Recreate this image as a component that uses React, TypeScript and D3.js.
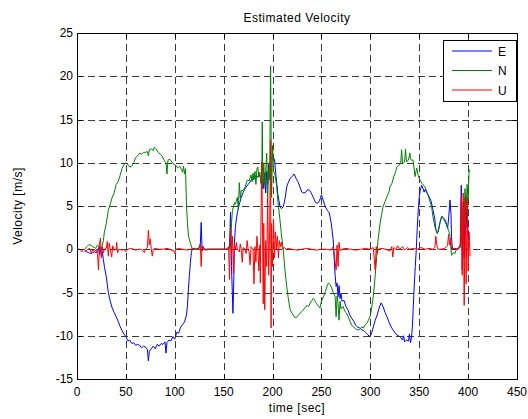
import React from "react";
import * as d3 from "d3";

const xTicks = [0, 50, 100, 150, 200, 250, 300, 350, 400, 450];
const yTicks = [-15, -10, -5, 0, 5, 10, 15, 20, 25];
const seriesNames = ["E", "N", "U"];
const seriesColors = ["#0000ff", "#008000", "#ff0000"];

// E (blue) velocity: [time, value]
const eData: [number, number][] = [
  [8, -0.2], [10, -0.3], [12, -0.4], [14, -0.5], [16, -0.4], [18, -0.3], [20, -0.4], [21, -0.1],
  [22, 0.2], [23, -0.6], [24, 0.2], [25, -0.9], [26, -0.3], [27, -1.2], [28, -2.0], [30, -3.2],
  [32, -5.0], [34, -6.0], [36, -6.8], [38, -7.3], [40, -7.8], [42, -8.3], [44, -8.9], [46, -9.4],
  [48, -9.8], [50, -10.1], [52, -10.6], [54, -10.5], [56, -10.9], [58, -10.8], [60, -11.1], [62, -11.0],
  [64, -11.1], [66, -11.4], [68, -11.2], [70, -11.3], [72, -11.6], [73, -12.9], [74, -11.8], [76, -11.5],
  [78, -11.2], [80, -11.5], [82, -11.0], [84, -11.2], [86, -10.9], [88, -11.0], [90, -10.7], [91, -12.0],
  [92, -10.8], [94, -10.5], [96, -10.6], [98, -10.1], [100, -10.4], [102, -9.6], [104, -9.7], [106, -9.0],
  [108, -8.7], [110, -8.4], [112, -7.6], [113, -6.5], [114, -4.5], [115, -3.0], [116, -1.5], [117, -0.3],
  [118, 0], [120, 0.1], [122, 0], [124, 0.1], [126, 0.2], [127, 3.1], [128, -0.2], [129, 0.3],
  [130, 0], [140, 0], [150, 0], [155, 0], [156, 0.2], [157, 4.3], [158, -2.0], [159.5, -7.4],
  [160.5, -3.0], [161, 0.8], [162, 2.5], [163, 3.5], [164, 4.2], [166, 5.2], [168, 6.0], [170, 6.6],
  [172, 7.0], [174, 7.4], [176, 7.6], [178, 8.0], [180, 8.1], [182, 8.4], [184, 8.3], [186, 8.6],
  [188, 8.4], [190, 8.5], [191, 7.0], [192, 8.8], [193, 6.5], [194, 9.0], [195, 7.5], [196, 9.8],
  [197, 8.0], [198, 10.5], [200, 10.7], [202, 10.4], [203.5, 8.5], [205.5, 6.3], [207.5, 5.0], [209, 4.7],
  [211, 4.9], [213, 6.0], [214.5, 7.2], [216, 7.7], [218, 8.2], [220, 8.4], [222, 8.7], [224, 8.2],
  [226, 7.8], [228, 7.2], [230, 6.6], [232, 6.5], [234, 6.6], [236, 6.9], [238, 6.8], [240, 6.4],
  [242, 5.9], [244, 5.4], [246, 5.3], [248, 5.6], [250, 6.3], [252, 5.6], [254, 4.9], [256, 4.5],
  [258, 4.2], [260, 3.0], [262, 1.1], [263, -1.0], [264, -3.0], [265, -4.3], [266, -3.9], [267, -5.5],
  [268, -4.2], [269, -5.7], [270, -5.1], [271, -6.0], [273, -5.9], [275, -6.6], [277, -7.0], [279, -7.6],
  [281, -8.0], [283, -8.3], [285, -8.8], [287, -9.0], [289, -9.1], [291, -9.3], [293, -9.4], [295, -9.6],
  [297, -9.8], [299, -10.1], [301, -9.8], [303, -9.0], [305, -8.2], [307, -7.6], [309, -6.8], [311, -6.2],
  [313, -6.6], [315, -7.3], [317, -7.8], [319, -8.4], [321, -8.9], [323, -9.3], [325, -9.6], [327, -9.9],
  [329, -10.0], [331, -10.2], [333, -10.5], [334, -10.0], [335, -10.7], [337, -10.5], [339, -10.6], [340, -9.8],
  [341, -10.8], [342, -10.3], [343, -9.0], [344, -6.5], [345, -4.0], [346, -2.0], [347, 0], [348, 2.5],
  [349, 4.5], [350, 6.0], [351, 6.8], [352.5, 7.4], [354, 7.0], [355, 6.6], [356, 6.9], [358, 6.5],
  [360, 6.1], [362, 5.6], [364, 4.6], [366, 3.4], [367, 2.3], [368, 1.9], [369.5, 2.0], [371, 3.0],
  [373, 3.8], [375, 3.6], [377, 3.3], [379, 2.4], [380, 3.5], [381.5, 5.7], [382.5, 4.0], [383, 1.5],
  [384, 0], [386, 0.1], [388, 0], [390, 0.1], [392, 0.5], [393, 7.4], [394, -2.4], [395, 5.5],
  [396, -1.0], [397, 6.0], [398, 2.5], [399, 5.5], [400, 1.6], [401, 1.0],
];

// N (green) velocity
const nData: [number, number][] = [
  [8, 0], [10, 0.3], [12, 0.5], [14, 0.5], [16, 0.3], [18, 0.2], [19, 0.1], [21, 0.5],
  [23, 0.2], [25, 0.1], [26, 0.5], [27, 1.0], [28, 2.0], [30, 3.0], [32, 4.5], [34, 5.2],
  [36, 6.0], [38, 6.5], [40, 7.5], [42, 7.8], [44, 8.5], [46, 9.3], [48, 9.8], [50, 10.0],
  [52, 9.8], [54, 9.5], [56, 9.6], [58, 10.0], [60, 10.6], [62, 10.8], [64, 11.1], [66, 11.0],
  [68, 11.2], [70, 11.2], [72, 11.3], [73, 10.8], [74, 11.5], [76, 11.6], [78, 11.4], [79, 11.8],
  [81, 11.6], [83, 11.2], [85, 11.0], [87, 10.8], [89, 10.3], [91, 10.0], [92, 8.7], [93, 10.3],
  [95, 10.4], [97, 10.1], [99, 9.8], [101, 9.7], [103, 9.4], [105, 9.6], [107, 9.2], [108, 8.9],
  [109, 9.6], [110, 8.7], [111, 9.3], [112, 5.0], [113, 3.0], [114, 1.5], [116, 0.7], [118, 0],
  [130, 0], [140, 0], [150, 0], [155, 0], [157, 0.5], [158, 3.0], [159, 4.5], [160, 4.9],
  [161, 5.4], [162, 5.2], [163, 5.6], [164, 6.0], [165, 4.6], [166, 7.7], [167, 5.9], [168, 6.8],
  [170, 6.8], [172, 7.2], [174, 8.0], [176, 7.9], [178, 8.6], [179, 7.8], [180, 8.8], [181, 8.0],
  [182, 9.0], [183, 7.5], [184, 9.3], [185, 9.5], [186, 8.3], [187, 8.9], [188, 7.6], [189, 9.0],
  [189.5, 14.7], [190, 7.0], [191, 10.0], [192, 7.5], [193, 9.0], [194, 11.1], [195, 6.0], [196, 9.5],
  [197, 8.0], [198, 21.2], [199, 6.0], [200, 12.0], [201, 9.0], [202.5, 8.6], [204, 7.5], [205.5, 5.5],
  [207.5, 3.5], [209, 1.8], [211, -0.1], [212.5, -2.2], [214.5, -4.3], [216, -5.6], [218, -7.0], [220, -7.4],
  [222, -7.8], [224, -7.9], [226, -7.7], [228, -7.4], [230, -7.2], [233, -6.8], [235, -6.5], [237, -6.6],
  [239, -6.1], [241.7, -5.7], [243, -5.9], [245, -6.3], [247, -6.6], [248.5, -6.8], [250, -6.0], [252, -5.5],
  [254, -4.9], [256, -4.2], [257, -3.9], [259, -4.1], [260.5, -4.5], [262, -5.0], [264, -5.5], [265, -7.8],
  [266, -5.4], [267, -6.3], [268, -8.2], [269, -6.0], [270, -6.9], [272, -6.6], [274, -7.2], [275.8, -7.4],
  [278, -8.0], [281, -8.8], [283, -9.0], [286, -9.3], [289, -9.3], [291, -9.0], [293, -9.1], [295, -8.7],
  [297, -8.5], [298, -8.2], [300, -7.7], [301, -7.0], [303, -5.5], [305, -3.0], [306.5, -0.9], [308, 1.2],
  [310, 3.0], [311.5, 4.0], [313, 4.9], [315, 5.5], [317, 6.1], [319, 6.6], [320, 7.2], [322, 7.6],
  [324, 8.4], [326, 9.0], [327, 9.5], [329, 9.7], [331, 9.9], [332, 11.5], [333, 9.9], [335, 10.1],
  [336, 11.6], [337, 10.1], [339, 10.3], [340.5, 11.1], [341, 10.5], [342, 10.3], [343.7, 10.3], [345.7, 8.4],
  [347.4, 9.4], [349, 8.5], [350.8, 8.0], [353, 7.6], [356, 7.2], [359, 6.3], [361, 5.5], [362.7, 4.9],
  [364, 3.8], [366, 2.6], [368.5, 1.8], [370, 2.4], [371.5, 3.2], [373, 3.8], [375, 3.5], [378, 2.8],
  [380, 2.2], [381.5, 1.5], [383, -0.7], [385, -0.4], [386.6, -0.5], [388, 0], [390, 0.1], [392, 0.2],
  [394, 2.0], [395, 5.0], [396, 3.0], [396.8, 7.0], [398, 4.5], [399, 7.5], [400, 5.5], [401, 9.2],
  [402, 9.0],
];

// U (red) velocity
const uData: [number, number][] = [
  [0, 0], [3, 0], [5, -0.3], [7, 0], [9, -0.2], [11, 0], [13, 0.1], [15, -0.5],
  [16, 0], [18, -0.3], [20, 0], [21, -0.6], [22, -2.4], [23, 0.6], [24, 1.3], [25, -1.0],
  [26, 0.3], [27, -0.4], [28, 0], [30, 0.1], [31, 0.9], [32, -0.8], [33, 0.7], [34, 0],
  [35.5, -0.9], [36.5, 0.4], [38, -0.1], [40, 0], [40.6, 0.8], [41.5, -0.4], [43, 0], [46, -0.1],
  [48, 0], [50, -0.3], [52, 0], [55, 0.1], [58, 0], [60, -0.1], [63, 0], [66, 0],
  [69, -0.4], [70, 0], [72, 0.2], [73, 2.2], [74, 0.5], [75, 1.2], [76, 0], [77, -0.8],
  [78, 0], [80, 0.1], [84, 0], [88, 0], [92, 0.1], [95, 0], [99, -0.2], [100, -0.5],
  [101, 0], [104, 0.1], [108, 0], [112, -0.1], [116, 0], [120, 0.1], [124, 0], [126, 0.6],
  [127, -2.0], [128, 0.4], [129, 0], [132, -0.1], [136, 0], [140, 0], [145, 0], [150, 0],
  [153, 0], [155, 0.3], [156, -3.5], [157, 2.5], [158, -0.4], [159, 1.5], [160, -2.8], [161, 0.5],
  [162, 0], [163, 0.8], [164, 0], [166, -0.3], [167, 0.6], [168, 0], [169, -1.5], [170, 0.2],
  [172, 0], [173, -0.5], [174, 1.0], [175, 0], [176, -0.3], [177, -1.8], [178, 0.3], [180, 0],
  [181, -4.0], [182, 0.3], [183, -1.5], [184, 1.5], [185, 0], [186, -2.5], [187, 0.5], [187.5, -3.9],
  [188, 2.0], [189, 10.1], [190, -1.0], [190.5, -6.3], [191, 3.0], [192, -7.0], [193, 1.0], [194, -2.0],
  [195, 6.0], [196, -3.0], [197, 2.0], [198, 12.6], [198.5, -9.1], [199, 3.0], [200, -2.0], [201, 3.5],
  [202, -1.0], [203, 2.0], [204, 0], [205, 1.5], [206, -1.0], [207, 1.0], [208, 0.3], [209, 0.8],
  [210, 0], [212, 0.2], [214, 0], [216, 0.1], [220, 0],
  [225, -0.1], [230, 0], [235, 0.1], [240, 0], [245, -0.1], [250, 0], [255, 0], [260, -0.1],
  [262, 0.3], [263, -0.4], [264, -1.5], [265, -2.4], [266, 0.5], [267, -2.0], [268, 0.8], [269, -0.2],
  [271, 0], [275, 0.1], [280, 0], [285, -0.1], [290, 0], [295, 0.1], [300, 0], [303, 0.2],
  [305, -2.4], [306, 0.3], [307, -0.5], [308, 0], [312, 0.1], [316, 0], [320, -0.2], [322, 0.3],
  [323, -0.9], [324, 0.2], [326, 0], [328, 0.4], [330, 0], [333, 0.3], [335, -0.1], [338, 0.2],
  [340, 0], [344, 0.1], [348, 0], [352, 0.2], [356, 0], [360, 0.1], [364, 0], [366, 0.2],
  [367, 1.5], [368, 0.5], [369, 0], [372, 0], [376, 0.1], [379, 0.4], [380, 1.7], [381, 0.5],
  [382, 1.2], [383, 0], [386, 0.1], [390, 0], [392, 0.5], [393, 6.0], [394, -3.0], [395, 6.5],
  [396, -6.5], [397, 5.5], [398, -4.0], [399, 6.0], [400, -2.5], [401, 2.0], [402, -0.8],
];

const W = 528;
const H = 419;
const L = 77;
const R = 517;
const T = 33;
const B = 379;
const FONT = "'Liberation Sans', Arial, Helvetica, sans-serif";

export default function App() {
  const x = d3.scaleLinear().domain([0, 450]).range([L, R]);
  const y = d3.scaleLinear().domain([-15, 25]).range([B, T]);
  const line = d3
    .line<[number, number]>()
    .x((d) => x(d[0]))
    .y((d) => y(d[1]));
  const all = [eData, nData, uData];
  const tickLen = 5;

  return (
    <svg
      width={W}
      height={H}
      style={{ position: "absolute", left: 0, top: 0, background: "#fff" }}
      fontFamily={FONT}
    >
      <rect x={0} y={0} width={W} height={H} fill="#fff" />
      <rect x={L} y={T} width={R - L} height={B - T} fill="#fff" />
      {/* grid */}
      <g stroke="#3a3a3a" strokeWidth={1} strokeDasharray="7,4" fill="none">
        {xTicks.slice(1, -1).map((t) => (
          <line key={"gx" + t} x1={Math.round(x(t)) + 0.5} x2={Math.round(x(t)) + 0.5} y1={T} y2={B} />
        ))}
        {yTicks.slice(1, -1).map((t) => (
          <line key={"gy" + t} x1={L} x2={R} y1={Math.round(y(t)) + 0.5} y2={Math.round(y(t)) + 0.5} />
        ))}
      </g>
      {/* data */}
      <g fill="none" strokeWidth={1} strokeLinejoin="round">
        {all.map((d, i) => (
          <path key={i} d={line(d) || ""} stroke={seriesColors[i]} />
        ))}
      </g>
      {/* ticks */}
      <g stroke="#000" strokeWidth={1}>
        {xTicks.map((t) => {
          const px = Math.round(x(t)) + 0.5;
          return (
            <g key={"tx" + t}>
              <line x1={px} x2={px} y1={B} y2={B - tickLen} />
              <line x1={px} x2={px} y1={T} y2={T + tickLen} />
            </g>
          );
        })}
        {yTicks.map((t) => {
          const py = Math.round(y(t)) + 0.5;
          return (
            <g key={"ty" + t}>
              <line x1={L} x2={L + tickLen} y1={py} y2={py} />
              <line x1={R} x2={R - tickLen} y1={py} y2={py} />
            </g>
          );
        })}
      </g>
      {/* axes box */}
      <rect x={L + 0.5} y={T + 0.5} width={R - L} height={B - T} fill="none" stroke="#000" strokeWidth={1} />
      {/* tick labels */}
      <g fontSize={12} fill="#000">
        {xTicks.map((t) => (
          <text key={"lx" + t} x={x(t)} y={B + 17} textAnchor="middle">
            {t}
          </text>
        ))}
        {yTicks.map((t) => (
          <text key={"ly" + t} x={L - 4} y={y(t) + 4} textAnchor="end">
            {t}
          </text>
        ))}
      </g>
      {/* titles */}
      <text x={(L + R) / 2} y={22} textAnchor="middle" fontSize={12} letterSpacing={0.5} fill="#000">
        Estimated Velocity
      </text>
      <text x={(L + R) / 2} y={412} textAnchor="middle" fontSize={12} letterSpacing={0.5} fill="#000">
        time [sec]
      </text>
      <text
        transform={`translate(22,${(T + B) / 2}) rotate(-90)`}
        textAnchor="middle"
        fontSize={12}
        letterSpacing={0.5}
        fill="#000"
      >
        Velocity [m/s]
      </text>
      {/* legend */}
      <g>
        <rect x={443.5} y={40.5} width={73} height={61} fill="#fff" stroke="#000" strokeWidth={1} />
        {seriesNames.map((n, i) => {
          const ly = 51 + i * 19.5;
          return (
            <g key={n}>
              <line x1={452} x2={492} y1={ly} y2={ly} stroke={seriesColors[i]} strokeWidth={1} />
              <text x={498} y={ly + 4.5} fontSize={12} fill="#000">
                {n}
              </text>
            </g>
          );
        })}
      </g>
    </svg>
  );
}
